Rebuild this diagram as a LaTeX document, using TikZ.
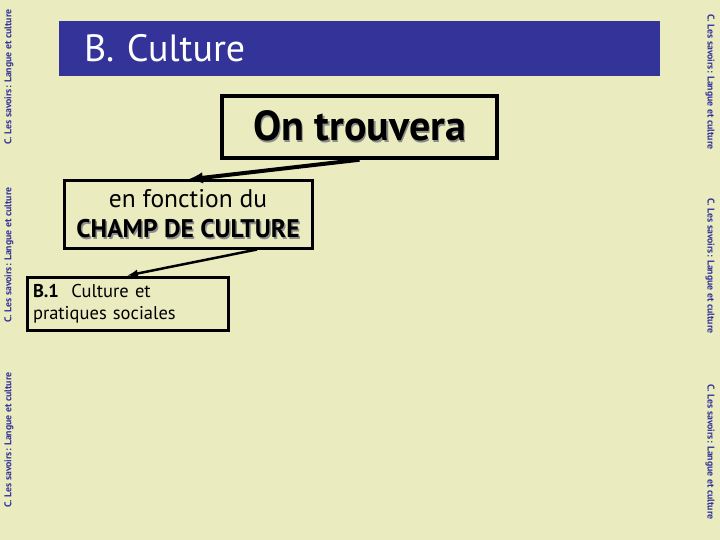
\documentclass[tikz,border=0pt]{standalone}
\usepackage{fontspec}
\setmainfont{PT Sans}
\usepackage{tikz}
\usetikzlibrary{calc}
\definecolor{slidebg}{RGB}{234,236,192}
\definecolor{slideblue}{RGB}{51,51,153}
\newcommand{\shadowed}[1]{\makebox[0pt][l]{\raisebox{-1.5pt}{\hspace{1.5pt}\color{black!45}#1}}#1}

\begin{document}
\begin{tikzpicture}[x=1pt,y=-1pt]
            \useasboundingbox[fill=slidebg] (0,0) rectangle (720,540);
            \tikzset{box/.style={draw,line width=3pt,inner sep=0pt}}

            \node[fill=slideblue,text=white,minimum height=55pt,text width=551pt,inner xsep=25pt,align=left,font=\fontsize{38}{44}\selectfont] (title) at (359.5,48.5) {B. Culture};

            \node[box,line width=3.5pt,minimum width=275pt,minimum height=62pt,font=\fontsize{42}{48}\selectfont\bfseries] (trouvera) at (359.5,127) {\shadowed{On trouvera}};
            \node[box,minimum width=248pt,minimum height=67pt,align=center,font=\fontsize{25.5}{30}\selectfont] (champ) at (188,214.5) {en fonction du\\ \textbf{\shadowed{CHAMP DE CULTURE}}};
            \node[box,minimum height=53pt,text width=189pt,inner xsep=6pt,align=left,font=\fontsize{18.5}{22}\selectfont] (pratiques) at (127.5,303.5) {\textbf{B.1}~~Culture et\\ pratiques sociales};

            \draw[line width=4pt,-latex] (trouvera.south) -- (champ.north);
            \draw[line width=2.5pt,-latex] ($(champ.south)!0.55!(champ.south east)$) -- (pratiques.north);

            \begin{scope}[every node/.style={text=slideblue,font=\fontsize{9.8}{12}\selectfont\bfseries}]
            \foreach \y/\n in {77/a,255/b,440/c} \node[rotate=90] (left\n) at (9,\y) {C. Les savoirs: Langue et culture};
            \foreach \y/\n in {82/a,266/b,452/c} \node[rotate=-90] (right\n) at (710,\y) {C. Les savoirs: Langue et culture};
            \end{scope}
            \end{tikzpicture}
\end{document}
